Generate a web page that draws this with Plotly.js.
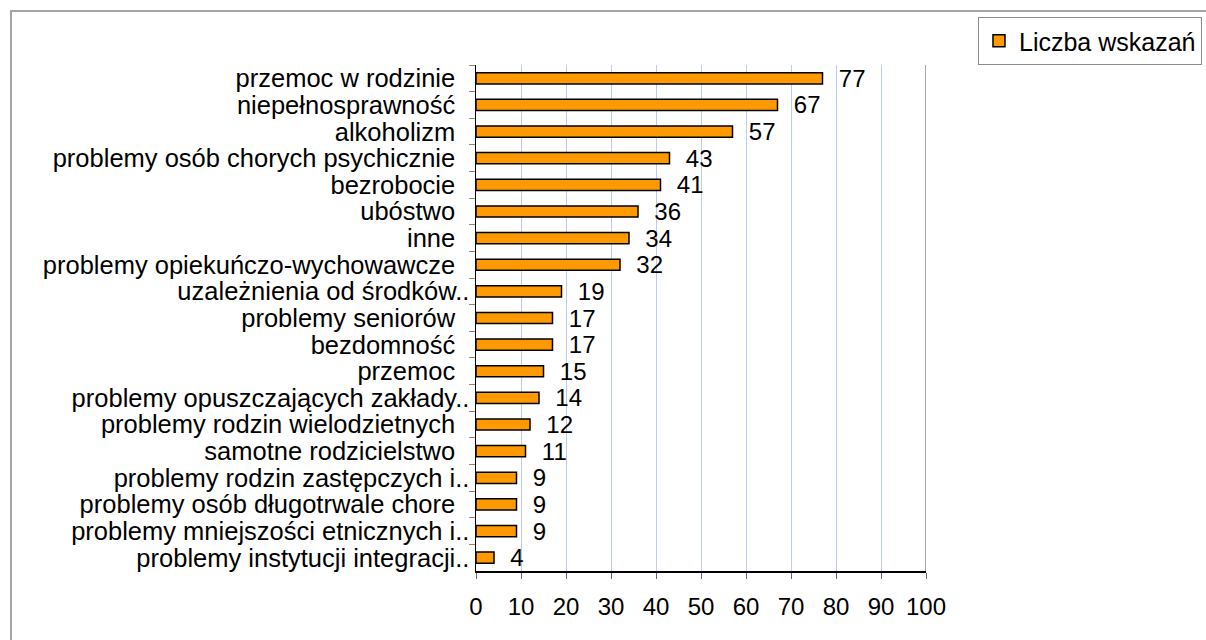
<!DOCTYPE html>
<html>
<head>
<meta charset="utf-8">
<script src="https://cdn.plot.ly/plotly-3.0.1.min.js"></script>
<style>
  html, body { margin: 0; padding: 0; background: #fff; }
  #wrap { position: relative; width: 1206px; height: 640px; overflow: hidden; }
  #chart { position: absolute; left: 0; top: 0; width: 1206px; height: 640px; }
  #frame { position: absolute; left: 10px; top: 10px; width: 1210px; height: 650px;
           border-left: 2px solid #a6a6a6; border-top: 2px solid #a6a6a6; pointer-events: none; }
</style>
</head>
<body>
<div id="wrap">
  <div id="chart"></div>
  <div id="frame"></div>
</div>
<script>
const categories = [
  "przemoc w rodzinie",
  "niepełnosprawność",
  "alkoholizm",
  "problemy osób chorych psychicznie",
  "bezrobocie",
  "ubóstwo",
  "inne",
  "problemy opiekuńczo-wychowawcze",
  "uzależnienia od środków..",
  "problemy seniorów",
  "bezdomność",
  "przemoc",
  "problemy opuszczających zakłady..",
  "problemy rodzin wielodzietnych",
  "samotne rodzicielstwo",
  "problemy rodzin zastępczych i..",
  "problemy osób długotrwale chore",
  "problemy mniejszości etnicznych i..",
  "problemy instytucji integracji.."
];
const values = [77, 67, 57, 43, 41, 36, 34, 32, 19, 17, 17, 15, 14, 12, 11, 9, 9, 9, 4];
const seriesName = "Liczba wskazań";
const xTicks = [0, 10, 20, 30, 40, 50, 60, 70, 80, 90, 100];

const labels = categories.map(c => c.endsWith("..") ? c : c + "\u00a0\u00a0");

const font = "Liberation Sans, Arial, sans-serif";

const trace = {
  type: "bar",
  orientation: "h",
  name: seriesName,
  x: values,
  y: labels,
  marker: { color: "#FF9900", line: { color: "#000000", width: 1.5 } },
  texttemplate: "\u00a0\u00a0%{x}",
  textposition: "outside",
  constraintext: "none",
  textfont: { family: font, size: 24, color: "#000" },
  cliponaxis: false,
  showlegend: true,
  hoverinfo: "skip"
};

const layout = {
  width: 1206,
  height: 640,
  margin: { l: 476, r: 280, t: 65, b: 68.5, pad: 0, autoexpand: false },
  paper_bgcolor: "#ffffff",
  plot_bgcolor: "#ffffff",
  font: { family: font, color: "#000" },
  bargap: 0.58,
  showlegend: true,
  legend: {
    x: 1.1155, y: 1.0948, xanchor: "left", yanchor: "top",
    font: { family: font, size: 25, color: "#000" },
    bordercolor: "#8c8c8c", borderwidth: 1, bgcolor: "#fff"
  },
  xaxis: {
    range: [0, 100],
    tickmode: "array",
    tickvals: xTicks,
    ticktext: xTicks.map(String),
    showgrid: true,
    gridcolor: "#BCCCEA",
    gridwidth: 1,
    zeroline: false,
    showline: true,
    linecolor: "#000",
    linewidth: 1.5,
    ticks: "outside",
    ticklen: 6,
    tickcolor: "#666",
    tickfont: { family: font, size: 24, color: "#000" },
    ticklabelstandoff: 8,
    automargin: false,
    fixedrange: true
  },
  yaxis: {
    type: "category",
    autorange: "reversed",
    tickmode: "linear",
    tick0: 0,
    dtick: 1,
    showgrid: false,
    zeroline: false,
    showline: true,
    linecolor: "#000",
    linewidth: 1.5,
    ticks: "outside",
    tickson: "boundaries",
    ticklen: 6,
    tickcolor: "#888",
    tickfont: { family: font, size: 25.5, color: "#000" },
    automargin: false,
    fixedrange: true
  },
  shapes: [
    { type: "line", xref: "x", yref: "paper", x0: 100, x1: 100, y0: 0, y1: 1,
      line: { color: "#8c8c8c", width: 1.5 } }
  ]
};

Plotly.newPlot("chart", [trace], layout, { displayModeBar: false, staticPlot: true });
</script>
</body>
</html>
